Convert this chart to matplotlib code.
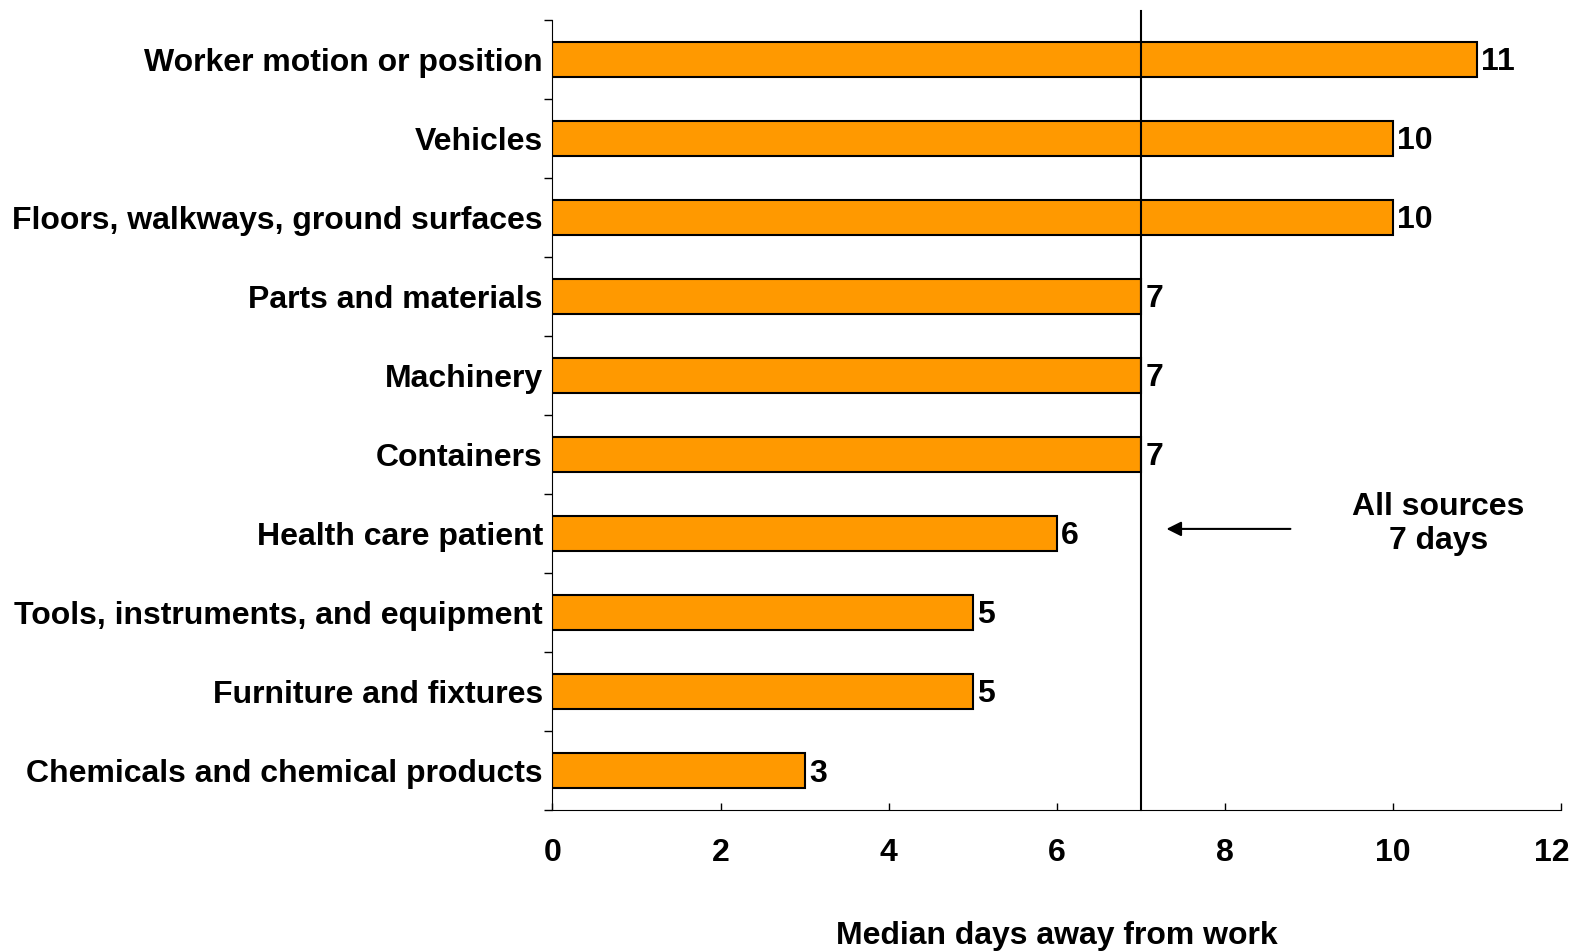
import matplotlib
matplotlib.use("Agg")
import matplotlib.pyplot as plt
import matplotlib.transforms as mtransforms
import numpy as np

# chart data, top to bottom as drawn
sources = [
    "Worker motion or position",
    "Vehicles",
    "Floors, walkways, ground surfaces",
    "Parts and materials",
    "Machinery",
    "Containers",
    "Health care patient",
    "Tools, instruments, and equipment",
    "Furniture and fixtures",
    "Chemicals and chemical products",
]
median_days = [11, 10, 10, 7, 7, 7, 6, 5, 5, 3]
all_sources_days = 7
x_ticks = [0, 2, 4, 6, 8, 10, 12]

plt.rcParams["font.family"] = ["Liberation Sans", "DejaVu Sans"]
plt.rcParams["font.weight"] = "bold"
FS = 23

fig = plt.figure(figsize=(15.74, 9.51), dpi=100)
ax = fig.add_axes([0.351, 0.148, 0.641, 0.831])

pos = np.arange(len(sources))
bars = ax.barh(pos, median_days, height=0.44, color="#FF9900",
               edgecolor="black", linewidth=1.5, zorder=2)

for b, v in zip(bars, median_days):
    ax.annotate(str(v), (b.get_width(), b.get_y() + b.get_height() / 2),
                xytext=(3, -2), textcoords="offset points",
                ha="left", va="center", fontsize=FS, fontweight="bold")

# overall median line, running a little above the plot box
ax.axvline(all_sources_days, ymin=0, ymax=1.011, color="black",
           linewidth=1.5, clip_on=False, zorder=3)

ax.annotate("", xy=(7.27, 5.94), xytext=(8.81, 5.94),
            arrowprops=dict(arrowstyle="-|>", color="black", lw=1.5,
                            mutation_scale=22))
ax.text(10.54, 5.88, "All sources\n7 days", ha="center", va="center",
        fontsize=FS, fontweight="bold", linespacing=1.2)

ax.set_xlim(0, 12)
ax.set_ylim(len(sources) - 0.5, -0.5)

ax.set_xticks(x_ticks)
ax.set_xticklabels([str(t) for t in x_ticks], fontsize=FS, fontweight="bold")
ax.tick_params(axis="x", direction="in", length=5, width=1, pad=20)

# last label sits a bit left of its tick so it stays on the page
last = ax.get_xticklabels()[-1]
last.set_transform(last.get_transform() +
                   mtransforms.ScaledTranslation(-10 / 100, 0, fig.dpi_scale_trans))

ax.set_yticks(np.arange(len(sources) + 1) - 0.5)
ax.set_yticklabels([])
ax.tick_params(axis="y", which="major", direction="out", length=6, width=1)
ax.set_yticks(pos, minor=True)
ax.set_yticklabels(sources, minor=True, fontsize=FS, fontweight="bold")
ax.tick_params(axis="y", which="minor", length=0, pad=7)

ax.spines["top"].set_visible(False)
ax.spines["right"].set_visible(False)

ax.set_xlabel("Median days away from work", fontsize=FS, fontweight="bold",
              labelpad=38)

fig.savefig("out.png", dpi=100)
